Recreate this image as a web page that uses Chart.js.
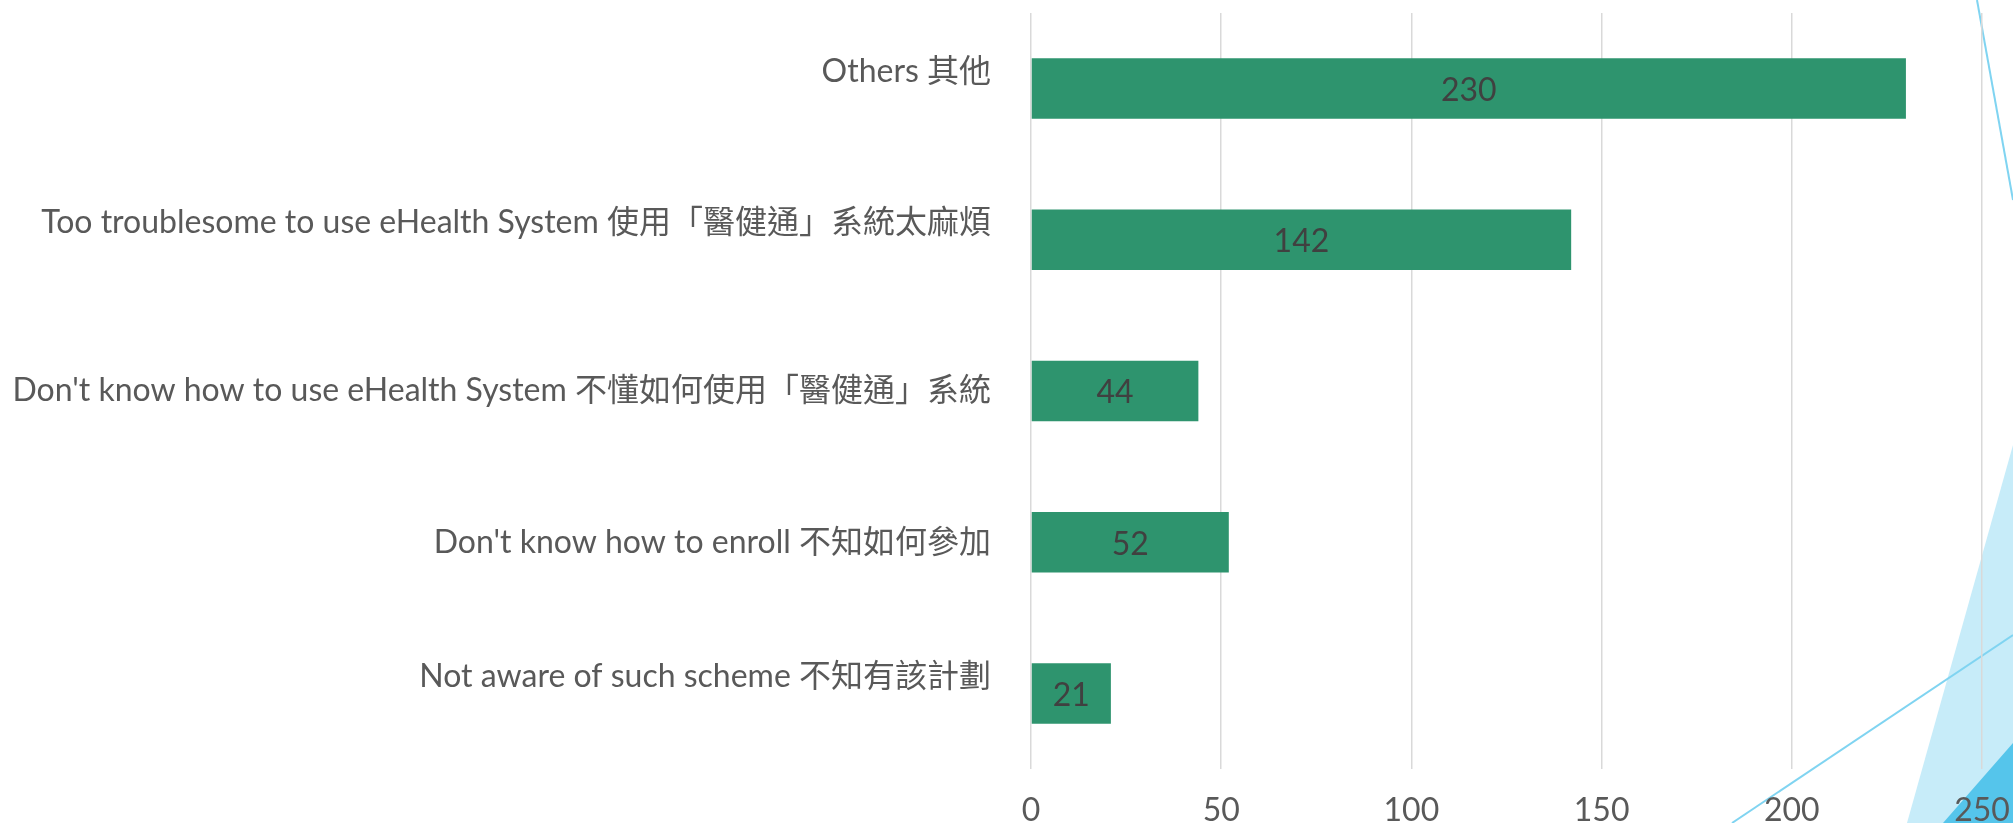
<!DOCTYPE html>
<html>
<head>
<meta charset="utf-8">
<script src="https://cdn.jsdelivr.net/npm/chart.js@4/dist/chart.umd.min.js"></script>
<style>
  html, body { margin: 0; padding: 0; background: #fff; }
  #wrap { position: relative; width: 2013px; height: 823px; overflow: hidden; }
  #deco { position: absolute; left: 0; top: 0; }
  #chart { position: absolute; left: 0; top: 0; }
</style>
</head>
<body>
<div id="wrap">
  <!-- slide theme shapes in the corner, behind the chart -->
  <svg id="deco" width="2013" height="823">
    <polygon points="1907,823 2013,445 2013,823" fill="#C7ECF9"/>
    <polygon points="1943,823 2013,743 2013,823" fill="#55C5EB"/>
    <line x1="1732" y1="823" x2="2013" y2="635" stroke="#80D4F1" stroke-width="2"/>
    <line x1="1977" y1="0" x2="2013" y2="200" stroke="#80D4F1" stroke-width="2"/>
  </svg>
  <canvas id="chart" width="2013" height="823"></canvas>
</div>
<script>
;(function(){
  // categories, top to bottom (some had a trailing line break in the source)
  const categories = [
    ['Others 其他', ''],
    ['Too troublesome to use eHealth System 使用「醫健通」系統太麻煩', ''],
    "Don't know how to use eHealth System 不懂如何使用「醫健通」系統",
    "Don't know how to enroll 不知如何參加",
    ['Not aware of such scheme 不知有該計劃', '']
  ]
  const counts = [230, 142, 44, 52, 21]
  const xTicks = [0, 50, 100, 150, 200, 250]

  const FONT = "'Liberation Sans Narrow', Lato, 'Noto Sans CJK TC', sans-serif"

  // draw the value in the middle of each bar
  const barValueLabels = {
    id: 'barValueLabels',
    afterDatasetsDraw(chart) {
      const ctx = chart.ctx
      ctx.save()
      ctx.font = '32px ' + FONT
      ctx.fillStyle = '#404040'
      ctx.textAlign = 'center'
      ctx.textBaseline = 'middle'
      chart.getDatasetMeta(0).data.forEach((bar, i) => {
        const p = bar.getProps(['x', 'y', 'base'], true)
        ctx.fillText(String(counts[i]), (p.x + p.base) / 2, p.y + 2)
      })
      ctx.restore()
    }
  }

  const ctx = document.getElementById('chart')

  new Chart(ctx, {
    type: 'bar',
    data: {
      labels: categories,
      datasets: [{
        data: counts,
        backgroundColor: '#2E946E',
        borderWidth: 0,
        categoryPercentage: 1,
        barPercentage: 0.4
      }]
    },
    options: {
      indexAxis: 'y',
      responsive: false,
      animation: false,
      layout: { padding: { top: 13, right: 31, left: 0, bottom: 0 } },
      plugins: {
        legend: { display: false },
        tooltip: { enabled: false }
      },
      scales: {
        x: {
          min: 0,
          max: 250,
          afterBuildTicks(scale) {
            scale.ticks = xTicks.map(v => ({ value: v }))
          },
          afterFit(scale) {
            scale.height = 54
            scale.paddingLeft = 0
            scale.paddingRight = 0
          },
          grid: { color: '#D9D9D9', lineWidth: 1.5, drawTicks: false },
          border: { display: false },
          ticks: {
            padding: 22,
            color: '#595959',
            font: { family: FONT, size: 32 }
          }
        },
        y: {
          afterFit(scale) {
            scale.width = 1031
            scale.paddingTop = 0
            scale.paddingBottom = 0
          },
          grid: { display: false, drawTicks: false },
          border: { display: false },
          ticks: {
            padding: 40,
            color: '#595959',
            font: { family: FONT, size: 32, lineHeight: 1.07 }
          }
        }
      }
    },
    plugins: [barValueLabels]
  })
})()
</script>
</body>
</html>
